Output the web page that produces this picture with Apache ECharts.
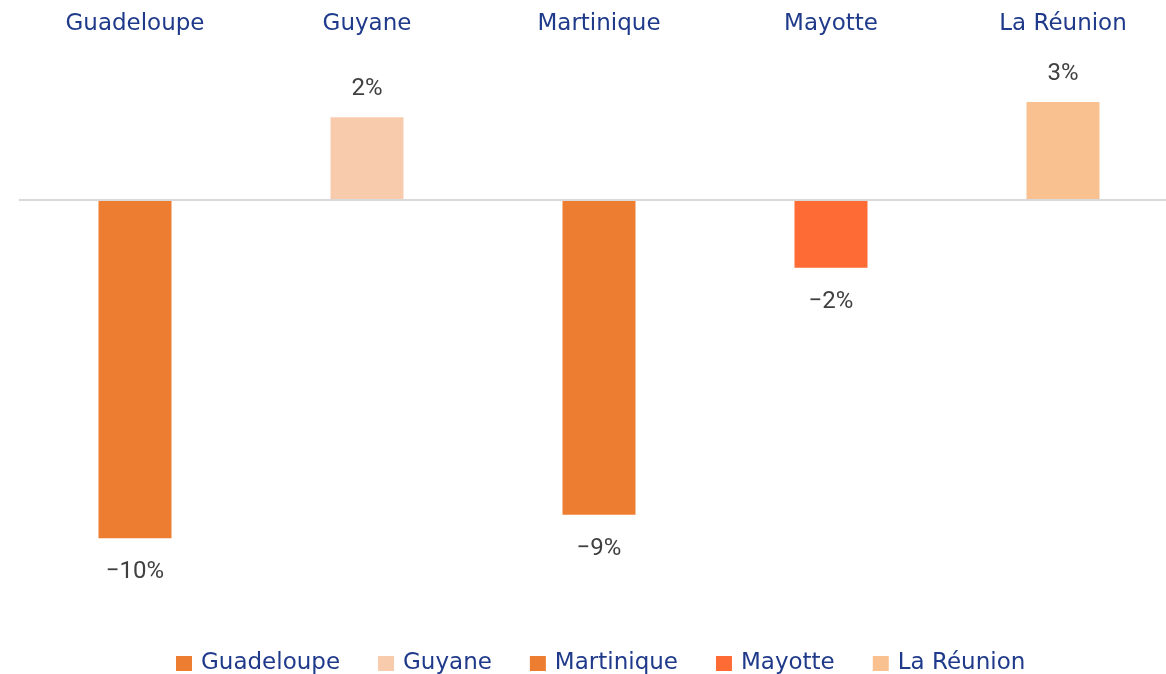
<!DOCTYPE html>
<html>
<head>
<meta charset="utf-8">
<style>
  html, body { margin: 0; padding: 0; background: #fff; overflow: hidden; }
  #chart { width: 1166px; height: 674px; }
</style>
<script src="https://cdn.jsdelivr.net/npm/echarts@6/dist/echarts.min.js"></script>
</head>
<body>
<div id="chart"></div>
<script>
const categories = ['Guadeloupe', 'Guyane', 'Martinique', 'Mayotte', 'La Réunion'];
const values = [-10.0, 2.45, -9.3, -2.0, 2.9];
const colors = ['#ED7D31', '#F8CBAD', '#ED7D31', '#FF6B35', '#F9C18F'];

const FONT = 'DejaVu Sans';
const navy = '#1F3A8A';

const chart = echarts.init(document.getElementById('chart'));

// one series per territory so the legend gets a swatch for each.
// x is a value axis (category slots at 0..4) because the reference plot
// runs past the right edge of the picture.
const series = categories.map((name, i) => {
  const neg = values[i] < 0;
  return {
    name: name,
    type: 'bar',
    barWidth: 73,
    barGap: '-100%',
    data: [[i, values[i]]],
    itemStyle: { color: colors[i] },
    label: {
      show: true,
      position: neg ? 'bottom' : 'top',
      distance: neg ? 22 : 16,
      color: '#404040',
      fontFamily: 'Roboto',
      fontSize: 24,
      formatter: (p) => {
        const r = Math.round(p.value[1]);
        return (r < 0 ? '\u2212' + Math.abs(r) : r) + '%';
      }
    }
  };
});

chart.setOption({
  backgroundColor: '#fff',
  animation: false,
  grid: { left: 19, right: 0, top: 31, bottom: 68 },
  legend: {
    left: 171,
    top: 647,
    itemWidth: 16,
    itemHeight: 15,
    itemGap: 38,
    icon: 'rect',
    textStyle: { color: navy, fontFamily: FONT, fontSize: 23, padding: [0, 0, 0, 4] },
    data: categories
  },
  xAxis: {
    type: 'value',
    min: -0.5,
    max: 4.444,
    position: 'top',
    axisLine: { show: false },
    axisTick: { show: false },
    splitLine: { show: false },
    axisLabel: {
      customValues: [0, 1, 2, 3, 4],
      formatter: (v) => categories[Math.round(v)],
      color: navy, fontFamily: FONT, fontSize: 23, margin: 7,
      verticalAlign: 'middle'
    }
  },
  yAxis: {
    type: 'value',
    min: -12,
    max: 5,
    axisLabel: { show: false },
    axisTick: { show: false },
    axisLine: { show: false },
    splitLine: { show: false }
  },
  series: series.concat([{
    type: 'line',
    data: [],
    markLine: {
      silent: true,
      symbol: 'none',
      label: { show: false },
      lineStyle: { color: '#D9D9D9', width: 2, type: 'solid' },
      data: [{ yAxis: 0 }]
    }
  }])
});
</script>
</body>
</html>
